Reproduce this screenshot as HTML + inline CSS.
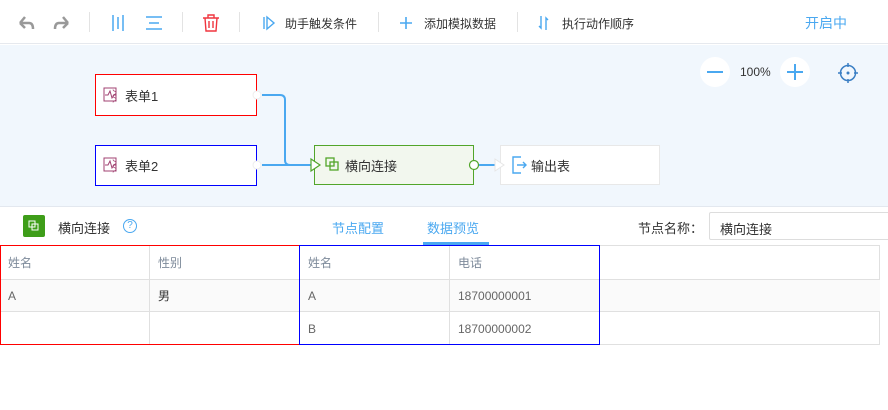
<!DOCTYPE html>
<html><head><meta charset="utf-8"><style>
*{margin:0;padding:0;box-sizing:border-box}
body{width:888px;height:410px;overflow:hidden;background:#fff;font-family:"Liberation Sans","Noto Sans CJK SC",sans-serif;font-size:13px;color:#333;position:relative}
.abs{position:absolute}
.sep{position:absolute;top:12px;width:1px;height:20px;background:#e3e3e3}
.tb{position:absolute;top:15px;font-size:12px;color:#333}
.node{position:absolute;background:#fff;display:flex;align-items:center;padding-left:12px;font-size:13px}
.cell{position:absolute;font-size:12px;color:#666;padding-left:8px;display:flex;align-items:center}
.hd{color:#7d8a9a}
</style></head><body>
<div class="abs" style="left:0;top:0;width:888px;height:44px;background:#fff;border-bottom:1px solid #e6e9ee"></div>
<svg class="abs" style="left:0;top:0" width="888" height="44">
<path d="M20 23 L25 17 M20 23 L25 28 M20 23 H29 Q33 23 33 29" stroke="#999" stroke-width="2.5" fill="none"/>
<path d="M68 23 L63 17 M68 23 L63 28 M68 23 H59 Q55 23 55 29" stroke="#999" stroke-width="2.5" fill="none"/>
<path d="M113 15V31M118 17V29M123 15V31" stroke="#4aa8f0" stroke-width="1.5"/>
<path d="M146 17H162M149 23H159M146 29H162" stroke="#4aa8f0" stroke-width="1.5"/>
<path d="M203 18H219M208 18V15H214V18M205 18L206 31H216L217 18M209 21V28M213 21V28" stroke="#f0353f" stroke-width="1.4" fill="none"/>
<path d="M264 17V29M267 17L274 23L267 29Z" stroke="#4aa8f0" stroke-width="1.4" fill="none"/>
<path d="M406 17V29M400 23H412" stroke="#4aa8f0" stroke-width="1.6"/>
<path d="M541 16V28L539 26M546 30V18L548 20" stroke="#4aa8f0" stroke-width="1.4" fill="none"/>
</svg>
<div class="sep" style="left:89px"></div><div class="sep" style="left:182px"></div><div class="sep" style="left:239px"></div><div class="sep" style="left:378px"></div><div class="sep" style="left:517px"></div>
<div class="tb" style="left:285px">助手触发条件</div>
<div class="tb" style="left:424px">添加模拟数据</div>
<div class="tb" style="left:562px">执行动作顺序</div>
<div class="tb" style="left:805px;top:13px;font-size:14px;color:#4aa8f0">开启中</div>
<div class="abs" style="left:0;top:45px;width:888px;height:161px;background:#f1f7fd"></div>
<div class="abs" style="left:700px;top:57px;width:30px;height:30px;border-radius:50%;background:#fff"></div>
<div class="abs" style="left:780px;top:57px;width:30px;height:30px;border-radius:50%;background:#fff"></div>
<div class="abs" style="left:740px;top:65px;font-size:12px;color:#333">100%</div>
<svg class="abs" style="left:0;top:0" width="888" height="206">
<path d="M707 72H723M787 72H803M795 64V80" stroke="#4aa8f0" stroke-width="2"/>
<circle cx="848" cy="73" r="7.5" stroke="#3b7fc4" stroke-width="1.5" fill="none"/><path d="M848 63V67M848 79V83M838 73H842M854 73H858" stroke="#3b7fc4" stroke-width="1.5"/><circle cx="848" cy="73" r="1.5" fill="#3b7fc4"/>
</svg>
<div class="node" style="left:95px;top:74px;width:162px;height:42px;border:1px solid #f00"><span style="color:#a04070;margin-right:4px">⌇</span>表单1</div>
<div class="node" style="left:95px;top:145px;width:162px;height:41px;border:1px solid #00f"><span style="color:#a04070;margin-right:4px">⌇</span>表单2</div>
<div class="node" style="left:314px;top:145px;width:160px;height:40px;border:1px solid #52a52a;background:#f2f7ee;padding-left:30px">横向连接</div>
<div class="node" style="left:500px;top:145px;width:160px;height:40px;border:1px solid #e8e8e8;padding-left:30px">输出表</div>
<svg class="abs" style="left:0;top:0" width="888" height="206">
<rect x="104" y="88" width="12" height="13" fill="none" stroke="#a04070" stroke-width="1"/><path d="M105 95H108L110 91L112 98L114 95H116" stroke="#a04070" fill="none"/>
<rect x="104" y="158" width="12" height="13" fill="none" stroke="#a04070" stroke-width="1"/><path d="M105 165H108L110 161L112 168L114 165H116" stroke="#a04070" fill="none"/>
<circle cx="257" cy="95" r="4" fill="#fff" stroke="#eee"/><circle cx="257" cy="165" r="4" fill="#fff" stroke="#eee"/>
<path d="M262 95H280Q285 95 285 100V160Q285 165 290 165H314M262 165H314" stroke="#4aa8f0" stroke-width="2" fill="none"/>
<path d="M311 159L320 165L311 171Z" fill="#fff" stroke="#52a52a" stroke-width="1.2"/>
<rect x="326" y="158" width="8" height="8" fill="none" stroke="#52a52a" stroke-width="1.3"/><rect x="330" y="162" width="8" height="8" fill="none" stroke="#52a52a" stroke-width="1.3"/>
<path d="M478 165H496" stroke="#4aa8f0" stroke-width="2"/>
<circle cx="474" cy="165" r="4.5" fill="#fff" stroke="#52a52a" stroke-width="1.2"/>
<path d="M495 159L504 165L495 171Z" fill="#fff" stroke="#e6e6e6"/>
<path d="M521 157H513V173H521M517 165H526M523 162L526 165L523 168" stroke="#4aa8f0" stroke-width="1.4" fill="none"/>
</svg>
<div class="abs" style="left:0;top:206px;width:888px;height:1px;background:#e3e8ef"></div>
<div class="abs" style="left:23px;top:215px;width:22px;height:22px;background:#3e9d19;border-radius:2px"></div>
<svg class="abs" style="left:23px;top:215px" width="22" height="22"><rect x="6" y="6" width="6" height="6" fill="none" stroke="#fff"/><rect x="9" y="9" width="6" height="6" fill="none" stroke="#fff"/></svg>
<div class="abs" style="left:58px;top:218px;font-size:13px">横向连接</div>
<div class="abs" style="left:123px;top:219px;width:14px;height:14px;border:1px solid #4aa8f0;border-radius:50%;color:#4aa8f0;font-size:10px;text-align:center;line-height:12px">?</div>
<div class="abs" style="left:332px;top:218px;font-size:13px;color:#4aa8f0">节点配置</div>
<div class="abs" style="left:427px;top:218px;font-size:13px;color:#4aa8f0">数据预览</div>
<div class="abs" style="left:423px;top:242px;width:66px;height:3px;background:#4aa8f0"></div>
<div class="abs" style="left:638px;top:218px;font-size:13px">节点名称：</div>
<div class="abs" style="left:709px;top:212px;width:190px;height:28px;border:1px solid #ddd;border-radius:2px;padding:6px 10px;font-size:13px">横向连接</div>
<div class="abs" style="left:0;top:245px;width:880px;height:100px;border:1px solid #e0e0e0"></div>
<div class="abs" style="left:0;top:279px;width:880px;height:33px;background:#fafafa;border-top:1px solid #e0e0e0;border-bottom:1px solid #e0e0e0"></div>
<div class="abs" style="left:149px;top:245px;width:1px;height:99px;background:#e0e0e0"></div>
<div class="abs" style="left:449px;top:245px;width:1px;height:99px;background:#e0e0e0"></div>
<div class="abs" style="left:0;top:245px;width:300px;height:100px;border:1px solid #f00"></div>
<div class="abs" style="left:299px;top:245px;width:301px;height:100px;border:1px solid #00f"></div>
<div class="cell hd" style="left:0;top:246px;height:33px">姓名</div>
<div class="cell hd" style="left:150px;top:246px;height:33px">性别</div>
<div class="cell hd" style="left:300px;top:246px;height:33px">姓名</div>
<div class="cell hd" style="left:450px;top:246px;height:33px">电话</div>
<div class="cell" style="left:0;top:279px;height:33px">A</div>
<div class="cell" style="left:150px;top:279px;height:33px;color:#333">男</div>
<div class="cell" style="left:300px;top:279px;height:33px">A</div>
<div class="cell" style="left:450px;top:279px;height:33px">18700000001</div>
<div class="cell" style="left:300px;top:312px;height:33px">B</div>
<div class="cell" style="left:450px;top:312px;height:33px">18700000002</div>
</body></html>
